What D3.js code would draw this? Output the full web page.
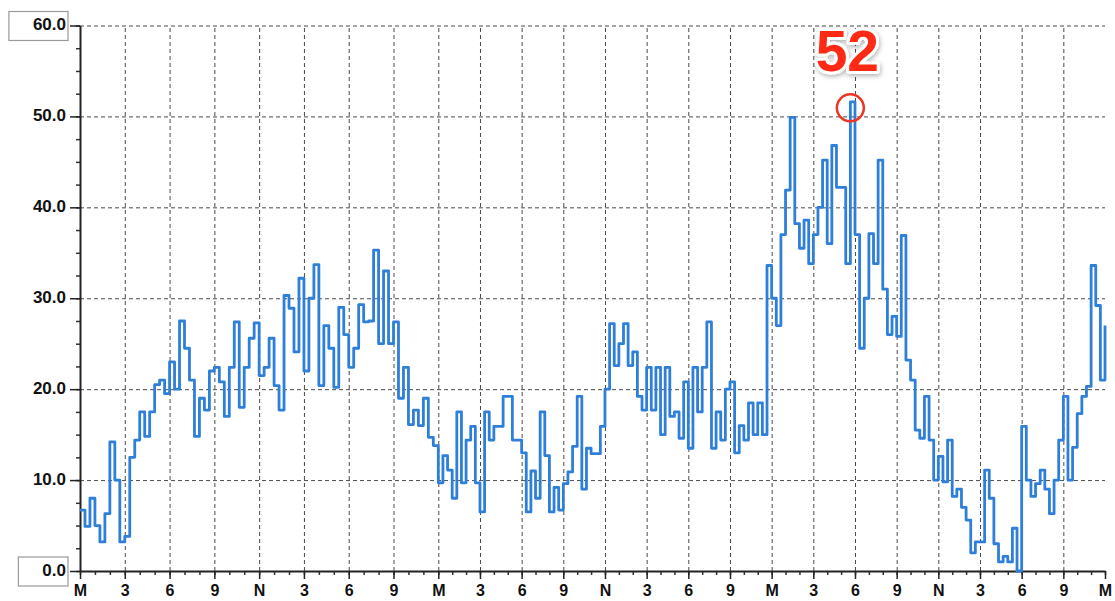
<!DOCTYPE html>
<html>
<head>
<meta charset="utf-8">
<script src="https://cdn.jsdelivr.net/npm/d3@7"></script>
<style>
    body { margin: 0; background: #fff; }
    svg { display: block; font-family: "Liberation Sans", Arial, sans-serif; }
</style>
</head>
<body>
<div id="chart"></div>
<script>
// Tick labels along the time axis, one every 3 hours (M = midnight, N = noon)
const tickHours = [0, 3, 6, 9, 12, 15, 18, 21, 24, 27, 30, 33, 36, 39, 42, 45, 48, 51, 54, 57, 60, 63, 66, 69, 72];
const tickLabels = ['M', '3', '6', '9', 'N', '3', '6', '9',
                    'M', '3', '6', '9', 'N', '3', '6', '9',
                    'M', '3', '6', '9', 'N', '3', '6', '9', 'M'];
const yTicks = [0, 10, 20, 30, 40, 50, 60];
const boxedTicks = [0, 60];

// One reading every 20 minutes, three per hour
const stepHours = 1 / 3;
const readings = [
    // day 1
    6.7, 4.9, 8.0,    5.0, 3.2, 6.3,    14.2, 10.0, 3.2,  3.8, 12.5, 14.4,
    17.5, 14.8, 17.5, 20.5, 21.0, 19.5, 23.0, 20.0, 27.5, 24.5, 21.0, 14.8,
    19.0, 17.7, 22.0, 22.4, 20.8, 17.0, 22.4, 27.4, 18.0, 22.4, 25.6, 27.3,
    21.5, 22.4, 25.6, 20.4, 17.7, 30.3, 28.9, 24.1, 32.2, 22.0, 30.0, 33.7,
    20.4, 27.0, 24.5, 20.2, 29.0, 26.0, 22.4, 24.5, 29.3, 27.4, 27.5, 35.3,
    25.0, 33.0, 25.0, 27.4, 19.0, 22.4, 16.1, 17.7, 16.0, 19.0, 14.7, 13.8,
    // day 2
    9.7, 12.7, 11.1,  8.0, 17.5, 9.7,   14.4, 15.9, 9.7,  6.5, 17.5, 14.4,
    15.9, 15.9, 19.2, 19.2, 14.4, 14.4, 13.0, 6.5, 11.0,  8.0, 17.5, 12.7,
    6.5, 9.2, 6.7,    9.6, 10.9, 13.7,  19.2, 9.0, 13.5,  12.9, 12.9, 15.9,
    20.0, 27.2, 22.6, 25.0, 27.2, 22.6, 24.1, 19.2, 17.7, 22.4, 17.7, 22.4,
    15.0, 22.4, 17.0, 17.5, 14.6, 20.8, 13.5, 22.4, 17.5, 22.4, 27.4, 13.5,
    17.5, 14.4, 20.0, 20.8, 13.0, 16.0, 14.4, 18.5, 15.0, 18.5, 15.0, 33.6,
    // day 3
    30.0, 27.0, 37.0, 41.9, 49.9, 38.2, 35.5, 38.6, 33.8, 37.0, 40.0, 45.2,
    36.0, 46.8, 42.2, 42.2, 33.8, 51.6, 37.0, 24.5, 30.0, 37.1, 33.8, 45.2,
    31.0, 26.0, 28.0, 25.8, 36.9, 23.2, 21.0, 15.5, 14.6, 19.2, 14.4, 10.0,
    12.6, 9.8, 14.4,  8.2, 9.0, 7.0,    5.6, 2.0, 3.2,    3.2, 11.1, 8.0,
    3.0, 1.0, 1.6,    1.0, 4.7, 0.0,    15.9, 10.0, 8.2,  9.6, 11.1, 9.0,
    6.3, 10.0, 14.4,  19.2, 10.0, 13.6, 17.3, 19.2, 20.3, 33.6, 29.2, 21.0,
    27.0
];

const width = 1115, height = 601;
const plot = { left: 80, right: 1105, top: 25.5, bottom: 571 };
const lineColor = '#2e7fd9';
const gridColor = '#4a4a4a';

const svg = d3.select('#chart').append('svg')
    .attr('width', width)
    .attr('height', height);

const defs = svg.append('defs');
defs.append('filter')
    .attr('id', 'shadow')
    .attr('x', '-30%').attr('y', '-30%')
    .attr('width', '160%').attr('height', '160%')
    .append('feDropShadow')
    .attr('dx', 1).attr('dy', 2)
    .attr('stdDeviation', 2.5)
    .attr('flood-color', '#000')
    .attr('flood-opacity', 0.3);

// The first day is drawn a little wider than the other two
const x = d3.scaleLinear()
    .domain([0, 24, 72])
    .range([plot.left, 438.3, plot.right]);

const y = d3.scaleLinear()
    .domain([0, 60])
    .range([plot.bottom, plot.top]);

// Dashed grid
const yGrid = svg.append('g')
    .attr('transform', `translate(${plot.left},0)`)
    .call(d3.axisLeft(y).tickValues(yTicks.filter(d => d > 0))
        .tickSize(-(plot.right - plot.left)).tickFormat(''));
yGrid.select('.domain').remove();
yGrid.selectAll('line')
    .attr('stroke', gridColor)
    .attr('stroke-dasharray', '4,3');

const xGrid = svg.append('g')
    .attr('transform', `translate(0,${plot.bottom})`)
    .call(d3.axisBottom(x).tickValues(tickHours.filter(d => d > 0 && d < 72))
        .tickSize(-(plot.bottom - plot.top)).tickFormat(''));
xGrid.select('.domain').remove();
xGrid.selectAll('line')
    .attr('stroke', gridColor)
    .attr('stroke-dasharray', '4,3');

// Minor ticks
svg.append('g')
    .attr('transform', `translate(${plot.left},0)`)
    .call(d3.axisLeft(y).tickValues(d3.range(0, 60.1, 2.5))
        .tickSize(4).tickSizeOuter(0).tickFormat(''))
    .call(g => g.select('.domain').remove())
    .selectAll('line').attr('stroke', '#333').attr('stroke-width', 1.5);

svg.append('g')
    .attr('transform', `translate(0,${plot.bottom})`)
    .call(d3.axisBottom(x).tickValues(d3.range(0, 73, 1))
        .tickSize(4).tickSizeOuter(0).tickFormat(''))
    .call(g => g.select('.domain').remove())
    .selectAll('line').attr('stroke', '#333').attr('stroke-width', 1.5);

// Y axis
const yAxis = svg.append('g')
    .attr('transform', `translate(${plot.left},0)`)
    .call(d3.axisLeft(y).tickValues(yTicks)
        .tickSize(10).tickSizeOuter(0).tickPadding(4)
        .tickFormat(d3.format('.1f')));
yAxis.select('.domain').attr('stroke', '#222').attr('stroke-width', 2);
yAxis.selectAll('line').attr('stroke', '#222').attr('stroke-width', 1.5);
yAxis.selectAll('text')
    .attr('dy', '0.26em')
    .style('font-size', '17px')
    .style('font-weight', 'bold')
    .style('fill', '#111');

yAxis.selectAll('.tick')
    .filter(d => boxedTicks.includes(d))
    .each(function() {
        const tick = d3.select(this);
        const b = tick.select('text').node().getBBox();
        tick.insert('rect', 'text')
            .attr('x', b.x - 24)
            .attr('y', -14.5)
            .attr('width', b.width + 26)
            .attr('height', 29)
            .attr('fill', '#fff')
            .attr('stroke', '#9a9a9a')
            .attr('stroke-width', 1.2);
    });

// X axis
const xAxis = svg.append('g')
    .attr('transform', `translate(0,${plot.bottom})`)
    .call(d3.axisBottom(x).tickValues(tickHours)
        .tickSize(8).tickSizeOuter(0).tickPadding(6)
        .tickFormat((d, i) => tickLabels[i]));
xAxis.select('.domain').attr('stroke', '#222').attr('stroke-width', 2);
xAxis.selectAll('line').attr('stroke', '#222').attr('stroke-width', 1.5);
xAxis.selectAll('text')
    .style('font-size', '16px')
    .style('font-weight', 'bold')
    .style('fill', '#111');

// Data line
const line = d3.line()
    .x((d, i) => x(i * stepHours))
    .y(d => y(d))
    .curve(d3.curveStepAfter);

svg.append('path')
    .datum(readings)
    .attr('d', line)
    .attr('fill', 'none')
    .attr('stroke', lineColor)
    .attr('stroke-width', 2.8)
    .attr('stroke-linejoin', 'round');

// Peak marker
const peakIdx = d3.maxIndex(readings);
const px = x(peakIdx * stepHours);
const py = y(readings[peakIdx]);

svg.append('circle')
    .attr('cx', px)
    .attr('cy', py + 6)
    .attr('r', 13.5)
    .attr('fill', 'none')
    .attr('stroke', '#ee3424')
    .attr('stroke-width', 2.5);

svg.append('text')
    .attr('x', px - 3)
    .attr('y', py - 31)
    .attr('text-anchor', 'middle')
    .attr('font-size', 57)
    .attr('font-weight', 'bold')
    .attr('fill', '#ff2c14')
    .attr('stroke', '#fff')
    .attr('stroke-width', 6)
    .attr('stroke-linejoin', 'round')
    .attr('paint-order', 'stroke')
    .attr('filter', 'url(#shadow)')
    .text(Math.round(readings[peakIdx]));
</script>
</body>
</html>
